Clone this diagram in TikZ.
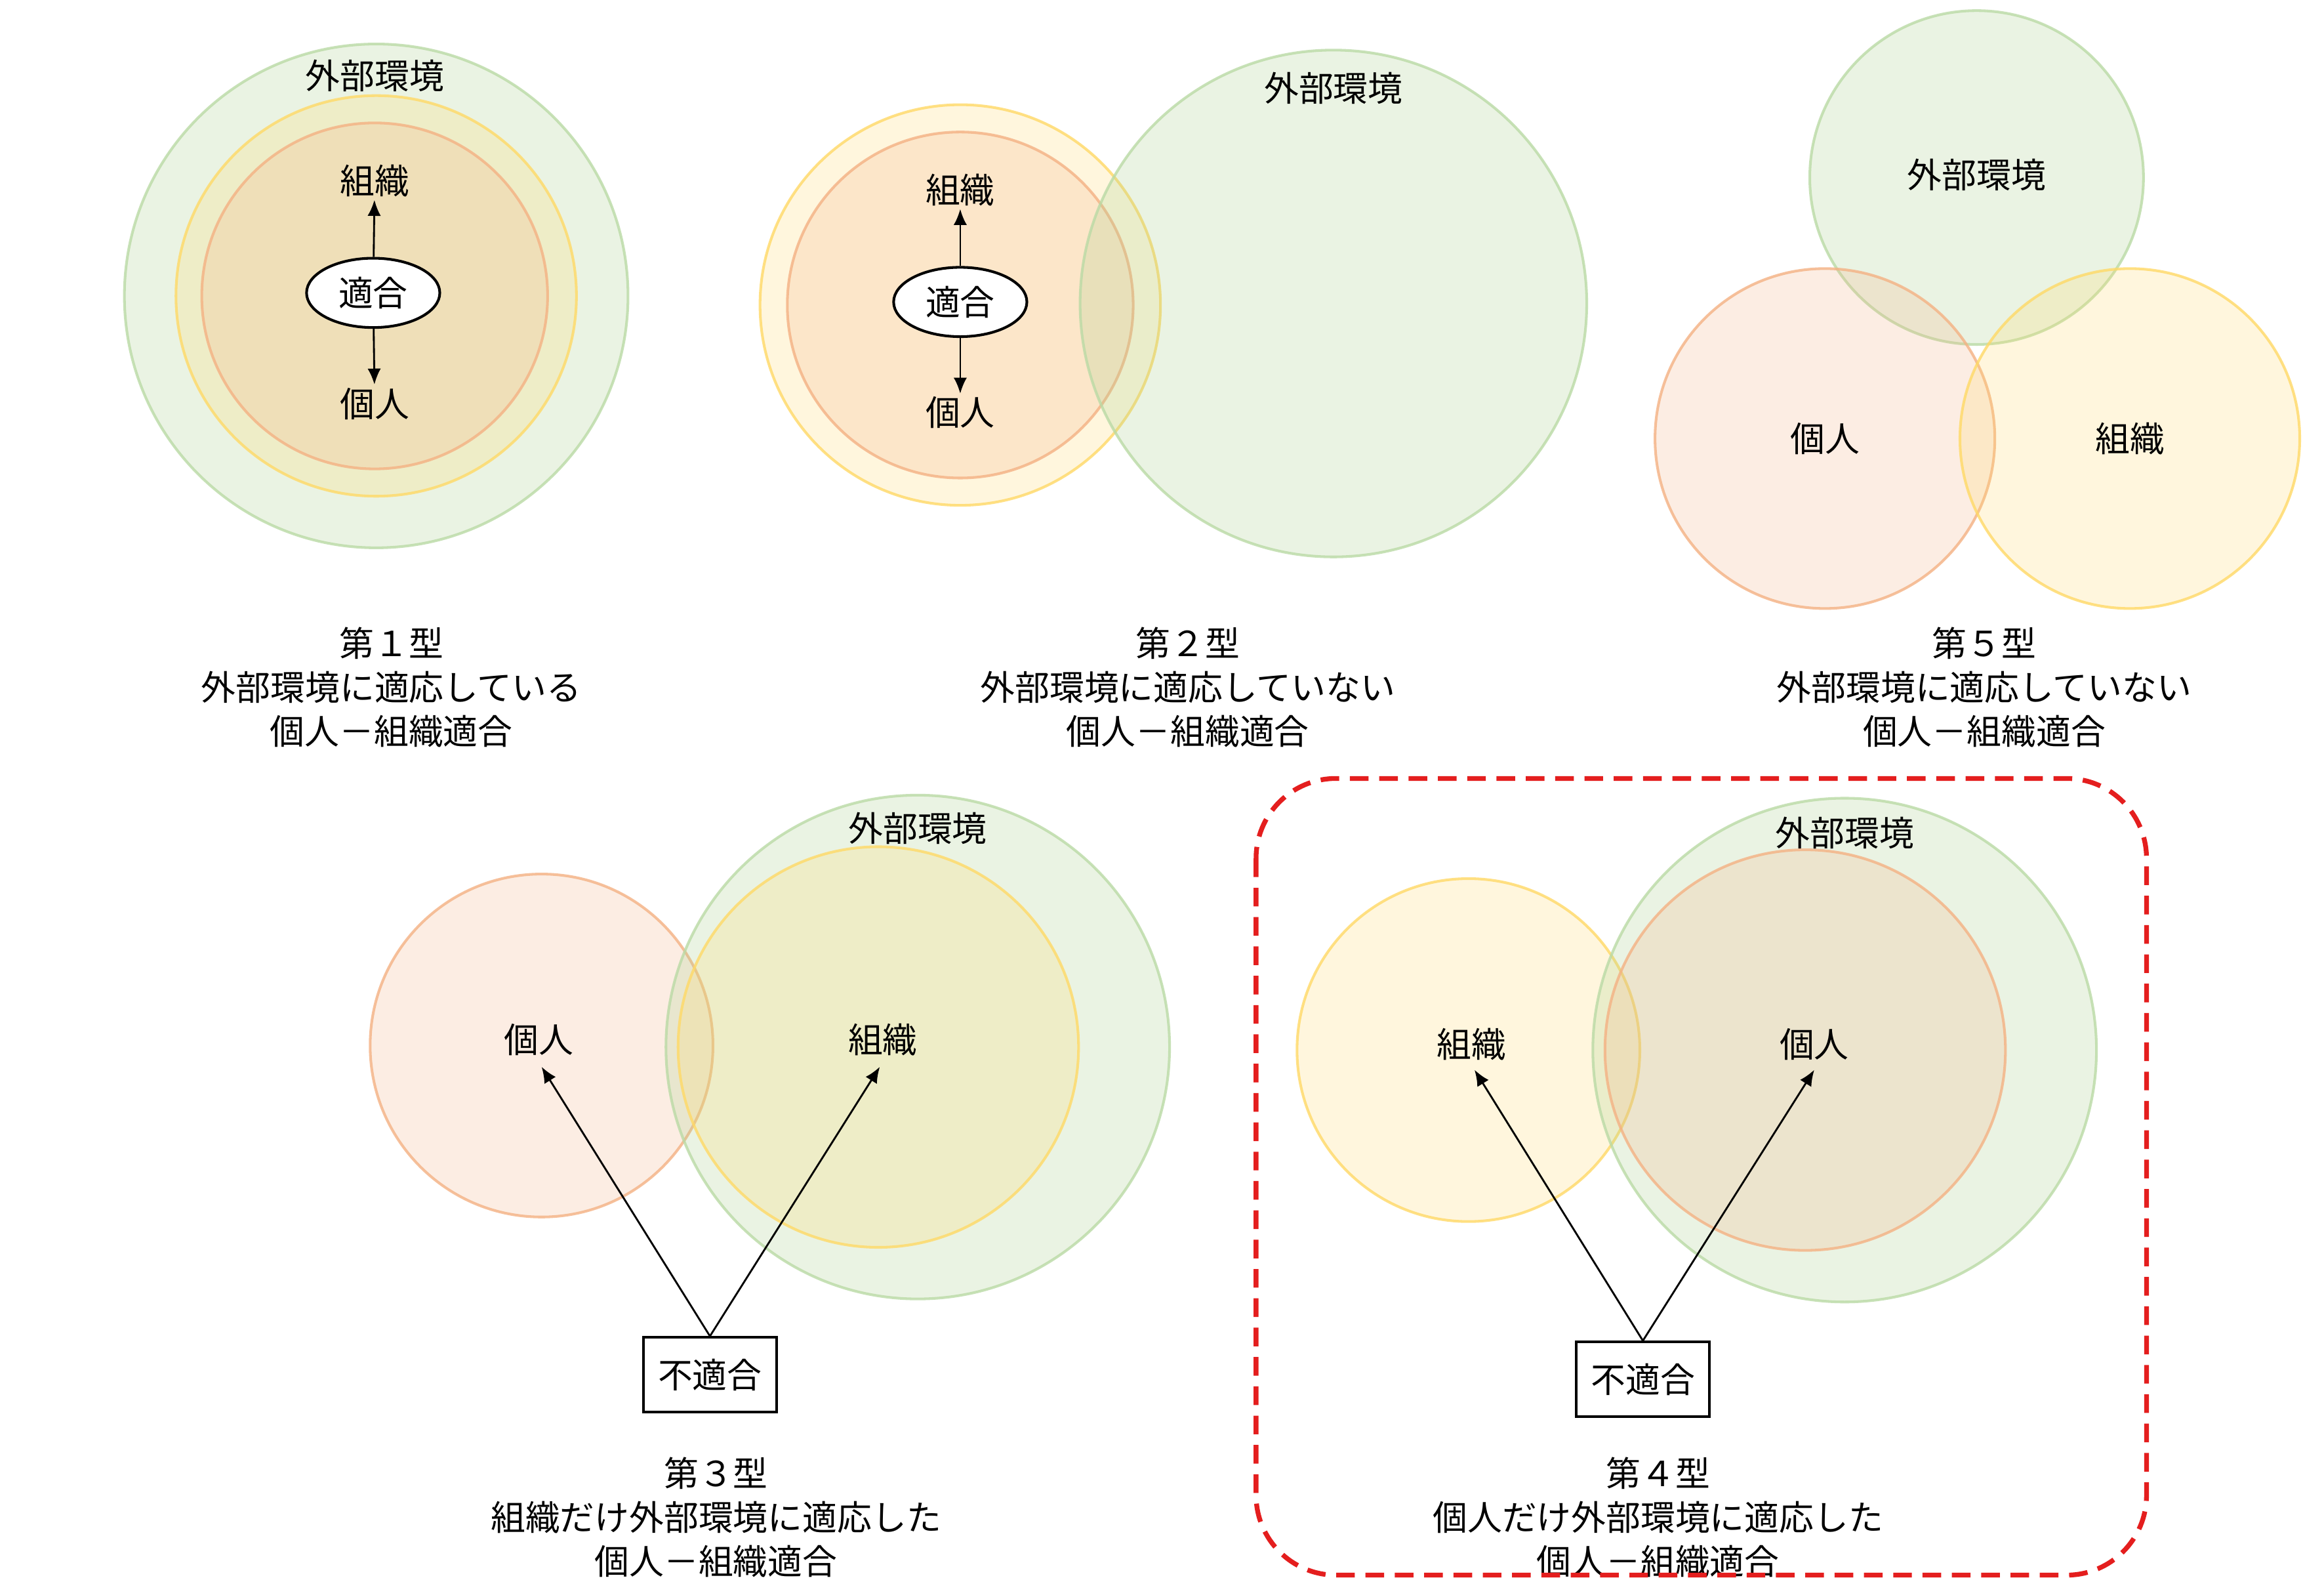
\documentclass[tikz,border=0pt]{standalone}
\usepackage{fontspec}
\setmainfont{Noto Sans CJK JP}
\usetikzlibrary{shapes.geometric,arrows.meta}
\definecolor{gF}{HTML}{A9D18E}\definecolor{yF}{HTML}{FFD966}\definecolor{oF}{HTML}{F4B183}
\definecolor{rD}{HTML}{E41E1E}
\tikzset{
 gc/.style={fill=gF,fill opacity=0.24,draw=gF!80!white,draw opacity=0.8,line width=1pt},
 yc/.style={fill=yF,fill opacity=0.22,draw=yF,draw opacity=0.8,line width=1pt},
 oc/.style={fill=oF,fill opacity=0.22,draw=oF,draw opacity=0.8,line width=1pt},
 lbl/.style={font=\fontsize{13}{15}\selectfont,inner sep=1pt},
 captxt/.style={font=\fontsize{13}{16.5}\selectfont,align=center},
 fitell/.style={ellipse,draw,line width=1pt,fill=white,minimum width=50pt,minimum height=26pt,font=\fontsize{13}{15}\selectfont,inner sep=0pt},
 nfitbox/.style={rectangle,draw,line width=1pt,fill=white,minimum width=50pt,minimum height=28pt,font=\fontsize{13}{15}\selectfont},
 arr/.style={-{Latex[length=6pt,width=5pt]},line width=0.7pt}
}
\begin{document}
\begin{tikzpicture}[x=0.02cm,y=0.02cm]
\useasboundingbox (0,0) rectangle (1532,-1041);
\fill[white] (0,0) rectangle (1532,-1041);
% Type 1
\draw[gc] (248,-195) circle[radius=166];
\draw[yc] (248,-195) circle[radius=132];
\draw[oc] (247,-195) circle[radius=114];
\node[lbl] (e1) at (247,-50) {外部環境};
\node[lbl] (o1) at (247,-119) {組織};
\node[lbl] (i1) at (247,-266) {個人};
\node[fitell] (f1) at (246,-193) {適合};
\draw[arr] (f1) -- (o1);
\draw[arr] (f1) -- (i1);
\node[captxt] (c1) at (258,-453) {第１型\\外部環境に適応している\\個人－組織適合};
% Type 2
\draw[yc] (633,-201) circle[radius=132];
\draw[oc] (633,-201) circle[radius=114];
\draw[gc] (879,-200) circle[radius=167];
\node[lbl] (e2) at (879,-58) {外部環境};
\node[lbl] (o2) at (633,-125) {組織};
\node[lbl] (i2) at (633,-272) {個人};
\node[fitell] (f2) at (633,-199) {適合};
\draw[arr] (f2) -- (o2);
\draw[arr] (f2) -- (i2);
\node[captxt] (c2) at (783,-453) {第２型\\外部環境に適応していない\\個人－組織適合};
% Type 5
\draw[gc] (1303,-117) circle[radius=110];
\draw[oc] (1203,-289) circle[radius=112];
\draw[yc] (1404,-289) circle[radius=112];
\node[lbl] (e5) at (1303,-115) {外部環境};
\node[lbl] (i5) at (1203,-289) {個人};
\node[lbl] (o5) at (1404,-289) {組織};
\node[captxt] (c5) at (1308,-453) {第５型\\外部環境に適応していない\\個人－組織適合};
% Type 3
\draw[oc] (357,-689) circle[radius=113];
\draw[gc] (605,-690) circle[radius=166];
\draw[yc] (579,-690) circle[radius=132];
\node[lbl] (e3) at (605,-546) {外部環境};
\node[lbl] (i3) at (355,-685) {個人};
\node[lbl] (o3) at (582,-685) {組織};
\node[nfitbox] (n3) at (468,-906) {不適合};
\coordinate (ai3) at (357,-703);
\coordinate (ao3) at (580,-703);
\draw[arr] (n3.north) -- (ai3);
\draw[arr] (n3.north) -- (ao3);
\node[captxt] (c3) at (472,-1000) {第３型\\組織だけ外部環境に適応した\\個人－組織適合};
% Type 4
\draw[yc] (968,-692) circle[radius=113];
\draw[gc] (1216,-692) circle[radius=166];
\draw[oc] (1190,-692) circle[radius=132];
\node[lbl] (e4) at (1216,-549) {外部環境};
\node[lbl] (o4) at (970,-688) {組織};
\node[lbl] (i4) at (1196,-688) {個人};
\node[nfitbox] (n4) at (1083,-909) {不適合};
\coordinate (ao4) at (972,-705);
\coordinate (ai4) at (1196,-705);
\draw[arr] (n4.north) -- (ao4);
\draw[arr] (n4.north) -- (ai4);
\node[captxt] (c4) at (1093,-1000) {第４型\\個人だけ外部環境に適応した\\個人－組織適合};
\draw[rD,line width=1.8pt,dash pattern=on 7pt off 4pt,rounded corners=30pt] (828,-513) rectangle (1415,-1038);
\end{tikzpicture}
\end{document}
